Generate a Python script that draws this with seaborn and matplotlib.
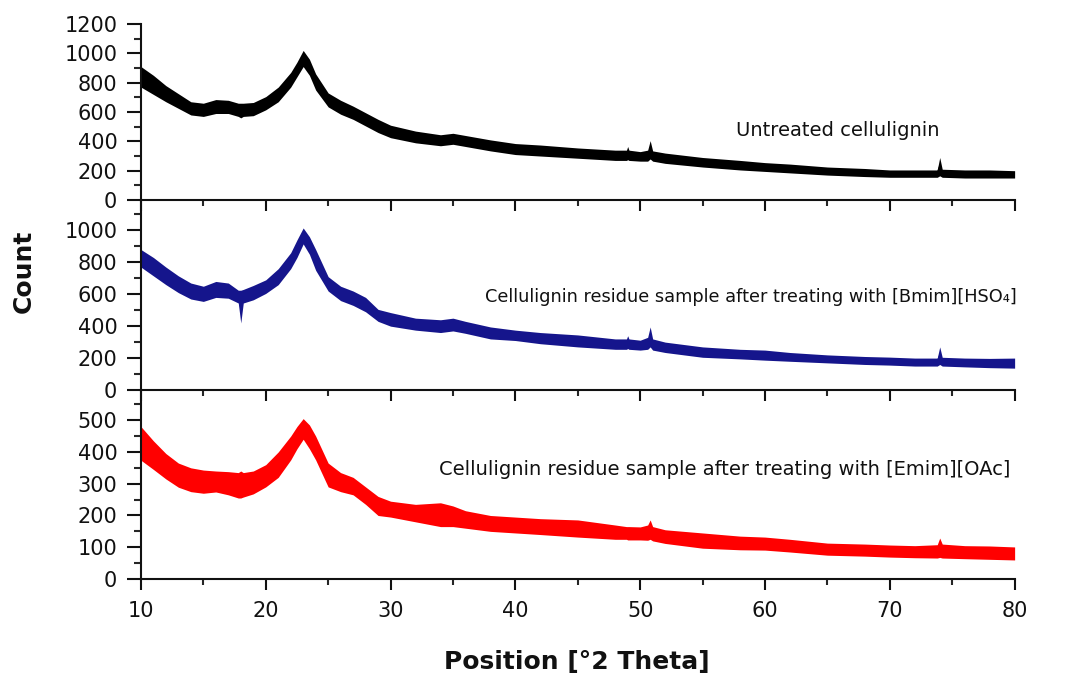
import numpy as np
import pandas as pd
import matplotlib
matplotlib.use("Agg")
import matplotlib.pyplot as plt
from matplotlib.ticker import MultipleLocator
import seaborn as sns

two_theta = [10, 11, 12, 13, 14, 15, 16, 17, 17.8, 18, 18.2, 19, 20, 21, 22, 22.5,
             23, 23.5, 24, 25, 26, 27, 28, 29, 30, 32, 34, 35, 36, 38, 40, 42, 45,
             48, 48.9, 49, 49.1, 50, 50.6, 50.8, 51, 52, 55, 58, 60, 62, 65, 68,
             70, 72, 73.8, 74, 74.2, 76, 78, 80]

# lower / upper edge of the noise band for each sample
untreated_low = [770, 720, 670, 625, 580, 570, 590, 590, 570, 560, 570, 575, 615, 670, 770, 840,
                 910, 850, 750, 635, 585, 550, 505, 460, 425, 390, 370, 380, 365, 335, 310, 300, 285,
                 270, 270, 275, 270, 265, 265, 280, 265, 250, 225, 205, 195, 185, 170, 160,
                 155, 155, 155, 165, 155, 150, 150, 150]
untreated_high = [910, 850, 780, 725, 670, 660, 685, 680, 660, 660, 660, 665, 705, 770, 870, 940,
                  1020, 960, 860, 730, 680, 640, 595, 550, 510, 470, 445, 455, 440, 410, 385, 375, 355,
                  340, 340, 365, 340, 330, 340, 405, 335, 320, 290, 270, 255, 245, 225, 215,
                  205, 205, 205, 290, 210, 205, 205, 200]

bmim_low = [770, 715, 660, 610, 570, 555, 580, 575, 545, 420, 545, 565, 605, 660, 760, 830,
            915, 850, 750, 620, 560, 530, 490, 430, 400, 375, 360, 370, 355, 320, 310, 290, 270,
            255, 255, 260, 255, 250, 255, 270, 250, 235, 205, 195, 187, 180, 170, 160,
            156, 150, 150, 160, 150, 145, 140, 137]
bmim_high = [880, 830, 770, 715, 670, 650, 680, 670, 625, 625, 630, 655, 690, 760, 860, 940,
             1015, 960, 880, 710, 650, 620, 580, 505, 485, 450, 440, 450, 430, 395, 375, 360, 345,
             320, 320, 340, 320, 312, 330, 395, 320, 300, 270, 255, 250, 235, 220, 210,
             206, 200, 200, 270, 205, 200, 198, 200]

emim_low = [374, 345, 315, 289, 275, 270, 274, 265, 255, 255, 258, 268, 290, 320, 375, 410,
            440, 410, 375, 290, 275, 265, 235, 200, 195, 180, 165, 165, 160, 150, 145, 140, 132,
            125, 125, 123, 123, 123, 122, 125, 120, 112, 97, 92, 91, 85, 75, 72,
            69, 67, 66, 68, 66, 64, 62, 60]
emim_high = [480, 435, 395, 365, 350, 343, 340, 338, 335, 340, 335, 340, 360, 400, 450, 480,
             505, 485, 450, 365, 335, 320, 290, 260, 245, 235, 240, 230, 215, 200, 195, 190, 186,
             170, 165, 165, 165, 164, 170, 186, 165, 155, 145, 135, 132, 125, 113, 110,
             107, 105, 108, 129, 110, 105, 104, 101]

samples = ["Untreated cellulignin",
           "Cellulignin residue sample after treating with [Bmim][HSO\u2084]",
           "Cellulignin residue sample after treating with [Emim][OAc]"]
bands = [(untreated_low, untreated_high), (bmim_low, bmim_high), (emim_low, emim_high)]
colors = ["#000000", "#15158c", "#ff0000"]
y_limits = [(0, 1200), (0, 1190), (0, 595)]
y_major = [200, 200, 100]
y_minor = [100, 100, 50]
label_pos = [(65.8, 477), (58.9, 581), (56.8, 345)]
label_size = [14, 12.8, 14]

sns.set_style("ticks")
plt.rcParams['font.family'] = ['DejaVu Sans']

fig = plt.figure(figsize=(10.84, 6.75), dpi=100)
axes = fig.subplots(3, 1, sharex=True,
                    gridspec_kw={'height_ratios': [176, 190, 189], 'hspace': 0})
fig.subplots_adjust(left=0.130, right=0.936, top=0.9644, bottom=0.1422)

for ax, (low, high), col, ylim, maj, mnr, name, pos, fs in zip(
        axes, bands, colors, y_limits, y_major, y_minor, samples, label_pos, label_size):
    # long format: two readings per position -> seaborn draws mean line + min/max band
    df = pd.DataFrame({'theta': two_theta * 2, 'count': low + high})
    sns.lineplot(data=df, x='theta', y='count', ax=ax, color=col, linewidth=1.2,
                 estimator='mean', errorbar=('pi', 100), err_kws={'alpha': 1, 'linewidth': 0})
    ax.set_xlim(10, 80)
    ax.set_ylim(*ylim)
    ax.yaxis.set_major_locator(MultipleLocator(maj))
    ax.yaxis.set_minor_locator(MultipleLocator(mnr))
    ax.xaxis.set_major_locator(MultipleLocator(10))
    ax.xaxis.set_minor_locator(MultipleLocator(5))
    ax.tick_params(axis='y', which='major', direction='out', length=10, width=1.5,
                   pad=7, labelsize=15, colors='#111111')
    ax.tick_params(axis='y', which='minor', direction='out', length=5, width=1.5)
    ax.tick_params(axis='x', which='major', direction='out', length=8, width=1.5,
                   pad=8, labelsize=15, colors='#111111')
    ax.tick_params(axis='x', which='minor', direction='out', length=4.5, width=1.5)
    for side in ['top', 'right']:
        ax.spines[side].set_visible(False)
    for side in ['left', 'bottom']:
        ax.spines[side].set_linewidth(1.5)
        ax.spines[side].set_color('#111111')
    ax.set_xlabel('')
    ax.set_ylabel('')
    ax.text(pos[0], pos[1], name, ha='center', va='center', fontsize=fs, color='#111111')
    ax.patch.set_alpha(0)

fig.text(24 / 1084, 1 - 271 / 675, 'Count', rotation=90, ha='center', va='center',
         fontsize=18, fontweight='bold', color='#111111')
fig.text(577 / 1084, 1 - 662 / 675, 'Position [\u00b02 Theta]', ha='center', va='center',
         fontsize=18, fontweight='bold', color='#111111')

fig.savefig('out.png', dpi=100)
